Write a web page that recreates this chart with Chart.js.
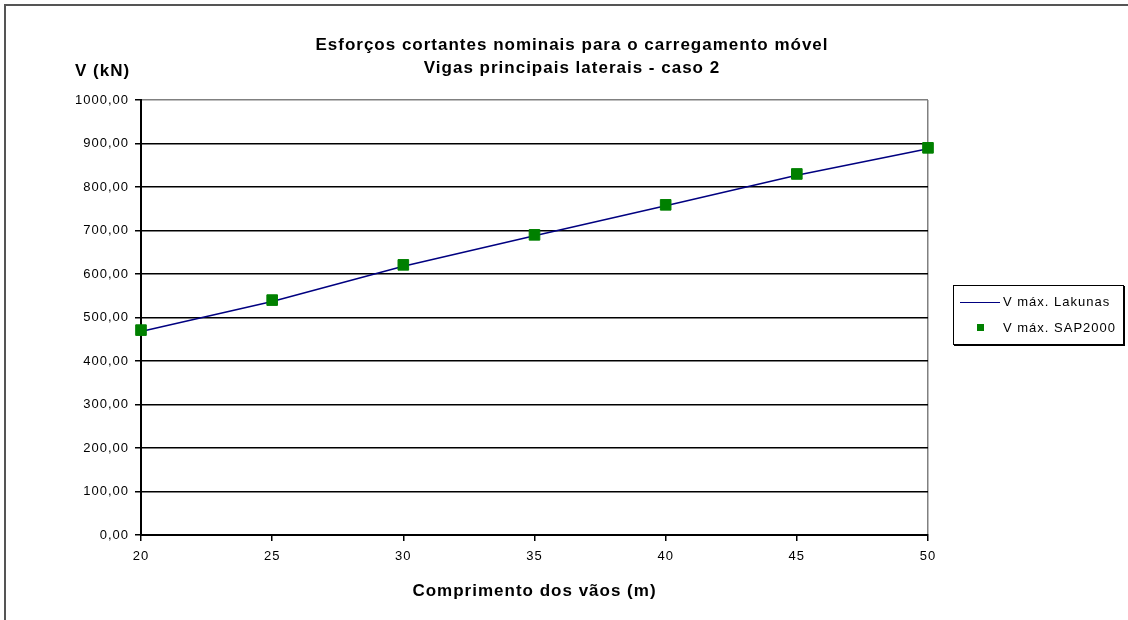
<!DOCTYPE html>
<html>
<head>
<meta charset="utf-8">
<script src="https://cdn.jsdelivr.net/npm/chart.js@4.4.1/dist/chart.umd.min.js"></script>
<style>
  html, body { margin: 0; padding: 0; background: #fff; }
  #wrap { position: relative; width: 1128px; height: 620px; overflow: hidden;
          font-family: "Liberation Sans", Arial, sans-serif; color: #000; }
  #frame { position: absolute; left: 4px; top: 4px; width: 1130px; height: 620px;
           border-left: 2px solid #555; border-top: 2px solid #555; box-sizing: border-box; }
  #title { position: absolute; left: 272px; width: 600px; top: 33px; text-align: center;
           font-weight: bold; font-size: 17px; line-height: 23px; letter-spacing: 1px; }
  #ylab { position: absolute; left: 75px; top: 61px; font-weight: bold; font-size: 17px; letter-spacing: 1px; }
  #legend { position: absolute; left: 953px; top: 285px; width: 171px; height: 60px; box-sizing: border-box;
            border: 1px solid #000; box-shadow: 1px 1px 0 #000; background: #fff;
            font-size: 13px; letter-spacing: 1px; }
  .row { position: absolute; left: 0; height: 16px; line-height: 16px; }
  .row span { position: absolute; left: 49px; white-space: nowrap; }
  .sw-line { position: absolute; left: 6px; top: 8px; width: 40px; height: 1px; background: #000080; }
  .sw-pt { position: absolute; left: 23px; top: 4px; width: 7px; height: 7px; background: #008000; }
  canvas { position: absolute; left: 0; top: 0; }
</style>
</head>
<body>
<div id="wrap">
  <canvas id="myChart" width="1128" height="620"></canvas>
  <div id="frame"></div>
  <div id="title">Esforços cortantes nominais para o carregamento móvel<br>Vigas principais laterais - caso 2</div>
  <div id="ylab">V (kN)</div>
  <div id="legend">
    <div class="row" style="top:8px"><div class="sw-line"></div><span>V máx. Lakunas</span></div>
    <div class="row" style="top:34px"><div class="sw-pt"></div><span>V máx. SAP2000</span></div>
  </div>
</div>
<script>
// spans (m) and shear values (kN)
var spans = [20, 25, 30, 35, 40, 45, 50];
var lakunas = [468, 537, 618, 688, 757, 827, 888];
var sap2000 = [471, 540, 621, 690, 759, 830, 890];
var yTicks = [0, 100, 200, 300, 400, 500, 600, 700, 800, 900, 1000];

function toPoints(vals) {
  return spans.map(function (x, i) { return { x: x, y: vals[i] }; });
}

var font = "'Liberation Sans', Arial, sans-serif";

// the original text is drawn a bit wider than Arial, so space the letters out
var spacing = {
  id: 'spacing',
  beforeUpdate: function (chart) { chart.ctx.letterSpacing = '1px'; },
  beforeDraw: function (chart) { chart.ctx.letterSpacing = '1px'; }
};

var data = {
  datasets: [{
    label: 'V máx. Lakunas',
    data: toPoints(lakunas),
    showLine: true,
    borderColor: '#000080',
    borderWidth: 1.5,
    pointRadius: 0,
    clip: false,
    order: 2
  }, {
    label: 'V máx. SAP2000',
    data: toPoints(sap2000),
    showLine: false,
    pointStyle: 'rect',
    pointRadius: 7.5,
    backgroundColor: '#008000',
    borderColor: '#008000',
    borderWidth: 1,
    clip: false,
    order: 1
  }]
};

var options = {
  responsive: false,
  animation: false,
  layout: { padding: { left: 0, right: 200, top: 100, bottom: 0 } },
  plugins: {
    legend: { display: false },
    tooltip: { enabled: false },
    title: { display: false }
  },
  scales: {
    x: {
      type: 'linear',
      min: 20,
      max: 50,
      afterFit: function (s) { s.height = 85; },
      ticks: { stepSize: 5, color: '#000', padding: 8, font: { family: font, size: 13 } },
      grid: {
        color: function (c) { return c.tick && c.tick.value === 50 ? '#808080' : 'rgba(0,0,0,0)'; },
        tickColor: '#000',
        tickLength: 6,
        lineWidth: 1.5
      },
      border: { color: '#000', width: 2 },
      title: {
        display: true,
        text: 'Comprimento dos vãos (m)',
        color: '#000',
        font: { family: font, size: 17, weight: 'bold' },
        padding: { top: 0, bottom: 18 }
      }
    },
    y: {
      min: 0,
      max: 1000,
      afterFit: function (s) { s.width = 141; },
      afterBuildTicks: function (s) { s.ticks = yTicks.map(function (v) { return { value: v }; }); },
      ticks: {
        color: '#000',
        padding: 6,
        font: { family: font, size: 13 },
        callback: function (v) { return v.toFixed(2).replace('.', ','); }
      },
      grid: {
        color: function (c) { return c.tick && c.tick.value === 1000 ? '#808080' : '#000'; },
        tickColor: '#000',
        tickLength: 6,
        lineWidth: 1.5
      },
      border: { color: '#000', width: 2 }
    }
  }
};

var ctx = document.getElementById('myChart').getContext('2d');
var myChart = new Chart(ctx, { type: 'scatter', data: data, options: options, plugins: [spacing] });
</script>
</body>
</html>
